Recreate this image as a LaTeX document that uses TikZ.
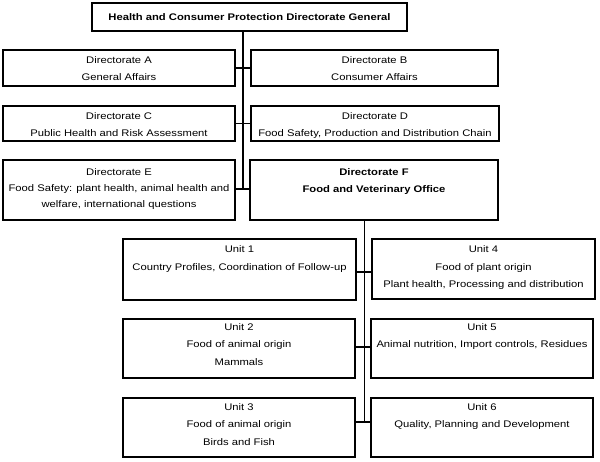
\documentclass[tikz,border=0pt]{standalone}
\usepackage{fontspec}
\setmainfont{Liberation Sans}[FakeStretch=1.17]
\begin{document}
\begin{tikzpicture}[x=1pt,y=-1pt,
  box/.style={draw,line width=1.6pt,inner sep=0pt,outer sep=0pt},
  txt/.style={anchor=north,align=center,inner sep=0pt,font=\fontsize{9.6}{17}\selectfont},
  btxt/.style={txt,font=\fontsize{9.6}{17}\selectfont\bfseries},
  utxt/.style={txt,font=\fontsize{9.6}{17.5}\selectfont},
  conn/.style={line width=1.6pt},
  thin/.style={line width=0.9pt}]
\useasboundingbox (0,0) rectangle (600,461);
% boxes
\node[box,minimum width=315pt,minimum height=28pt] (top) at (249.5,17) {};
\node[box,minimum width=232pt,minimum height=36pt] (A) at (119,68) {};
\node[box,minimum width=247pt,minimum height=36pt] (B) at (374.5,68) {};
\node[box,minimum width=232pt,minimum height=35pt] (C) at (119,123.5) {};
\node[box,minimum width=248pt,minimum height=35pt] (D) at (375,123.5) {};
\node[box,minimum width=232pt,minimum height=60pt] (E) at (119,190) {};
\node[box,minimum width=248pt,minimum height=60pt] (F) at (374,190) {};
\node[box,minimum width=233pt,minimum height=61pt] (U1) at (239.5,269.5) {};
\node[box,minimum width=223pt,minimum height=60pt] (U4) at (483.5,269) {};
\node[box,minimum width=232pt,minimum height=59pt] (U2) at (239,348.5) {};
\node[box,minimum width=222pt,minimum height=59pt] (U5) at (482,348.5) {};
\node[box,minimum width=232pt,minimum height=59pt] (U3) at (239,427.5) {};
\node[box,minimum width=222pt,minimum height=59pt] (U6) at (482,427.5) {};
% texts (north anchor = about 7pt above first baseline)
\node[btxt] (ttop) at (249.5,13.5) {Health and Consumer Protection Directorate General};
\node[txt] (tA) at (119,56.5) {Directorate A\\General Affairs};
\node[txt] (tB) at (374.5,56.5) {Directorate B\\Consumer Affairs};
\node[txt] (tC) at (119,112.5) {Directorate C\\Public Health and Risk Assessment};
\node[txt] (tD) at (375,112.5) {Directorate D\\Food Safety, Production and Distribution Chain};
\node[txt,font=\fontsize{9.6}{16}\selectfont] (tE) at (119,168.5) {Directorate E\\Food Safety: plant health, animal health and\\welfare, international questions};
\node[btxt] (tF) at (374,168.5) {Directorate F\\Food and Veterinary Office};
\node[utxt] (tU1) at (239.5,245.5) {Unit 1\\Country Profiles, Coordination of Follow-up};
\node[utxt] (tU4) at (483.5,245.5) {Unit 4\\Food of plant origin\\Plant health, Processing and distribution};
\node[utxt] (tU2) at (239,323) {Unit 2\\Food of animal origin\\Mammals};
\node[utxt] (tU5) at (482,323) {Unit 5\\Animal nutrition, Import controls, Residues};
\node[utxt] (tU3) at (239,403) {Unit 3\\Food of animal origin\\Birds and Fish};
\node[utxt] (tU6) at (482,403) {Unit 6\\Quality, Planning and Development};
% connectors
\coordinate (jEF) at (243,189);
\coordinate (k1) at (364,272);
\coordinate (k2) at (364,347);
\coordinate (k3) at (364,422);
\draw[conn] (top.south -| jEF) -- (jEF);
\draw[conn] (A.east) -- (B.west);
\draw[conn] (C.east) -- (D.west);
\draw[conn] (E.east |- jEF) -- (F.west |- jEF);
\draw[thin] (F.south -| k3) -- (k3);
\draw[conn] (U1.east |- k1) -- (U4.west |- k1);
\draw[conn] (U2.east |- k2) -- (U5.west |- k2);
\draw[conn] (U3.east |- k3) -- (U6.west |- k3);
\end{tikzpicture}
\end{document}
